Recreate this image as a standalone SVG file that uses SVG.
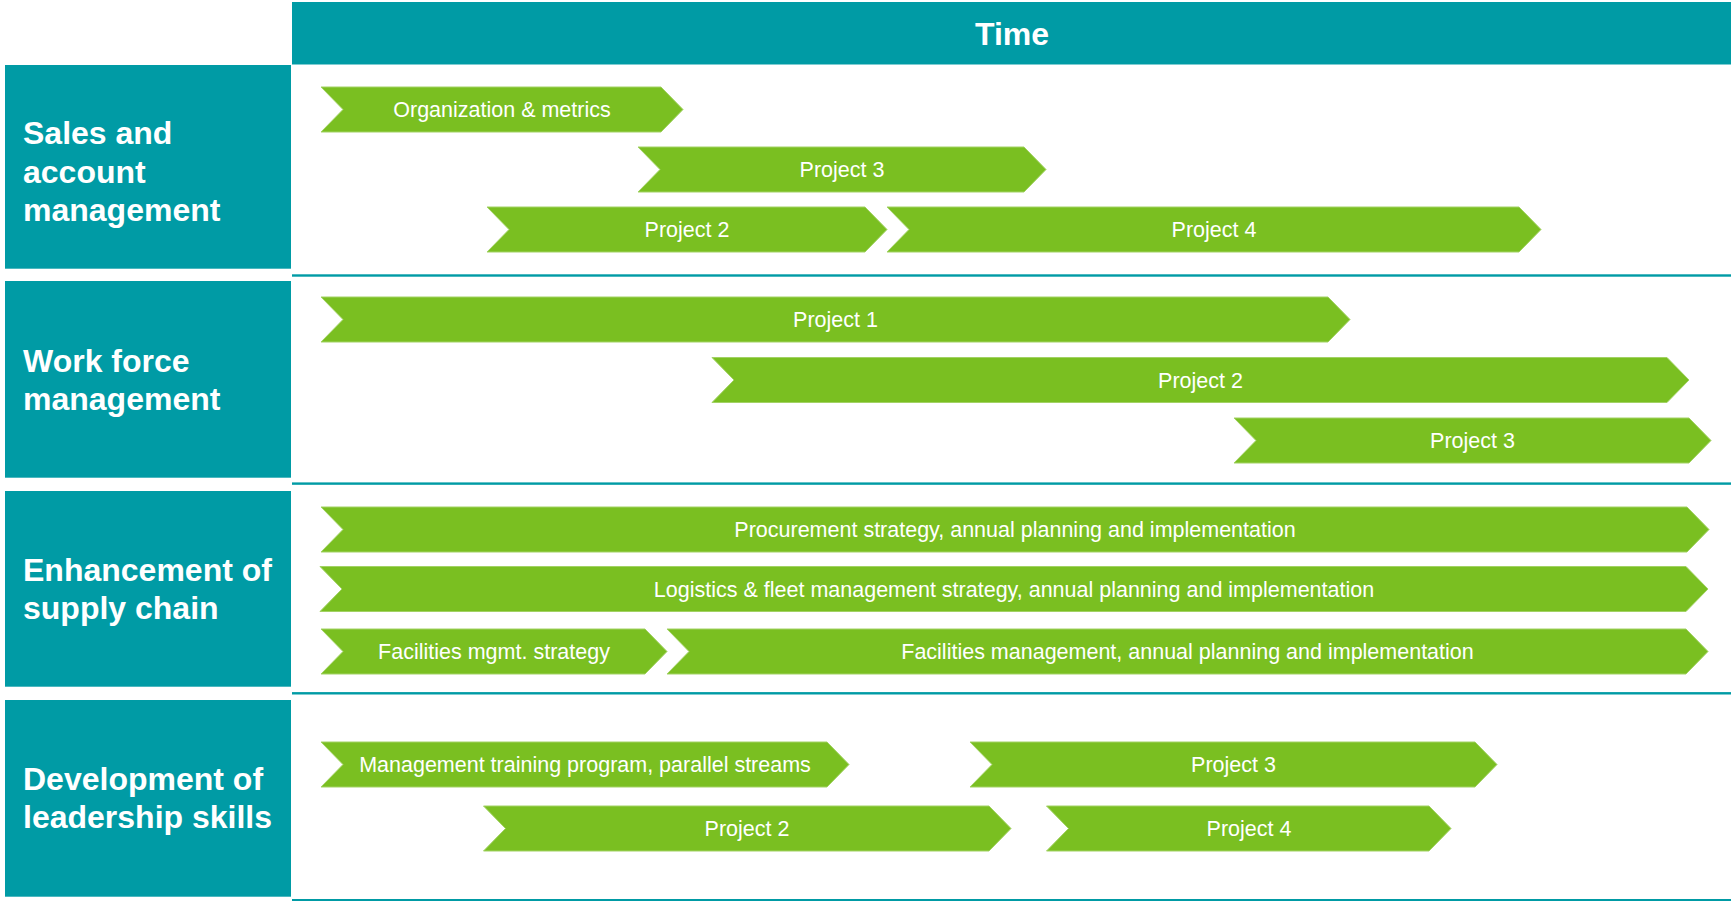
<svg xmlns="http://www.w3.org/2000/svg" width="1731" height="901" viewBox="0 0 1731 901">
  <defs>
    <style>
      .band { fill: #009ba5; }
      .rule { fill: #009ba5; }
      .bar { fill: #7abf21; stroke: #a2d264; stroke-width: 1; }
      .head { font-family: "Liberation Sans", Arial, sans-serif; font-weight: bold; font-size: 32px; fill: #ffffff; }
      .lbl { font-family: "Liberation Sans", Arial, sans-serif; font-size: 21.5px; fill: #ffffff; text-anchor: middle; }
    </style>
  </defs>
  <rect width="1731" height="901" fill="#ffffff"/>

  <!-- timeline header -->
  <g id="time-header">
    <rect class="band" x="292" y="2" width="1439" height="62.5"/>
    <text class="head" x="1012" y="45.3" text-anchor="middle">Time</text>
  </g>

  <!-- row separators -->
  <g id="rules">
    <rect class="rule" x="292" y="274.3" width="1439" height="2.4"/>
    <rect class="rule" x="292" y="482.4" width="1439" height="2.4"/>
    <rect class="rule" x="292" y="692.1" width="1439" height="2.4"/>
    <rect class="rule" x="292" y="899" width="1439" height="2.4"/>
  </g>

  <!-- category labels -->
  <g id="cat-sales">
    <rect class="band" x="5" y="65" width="286" height="203.7"/>
    <text class="head" x="23" y="144">Sales and</text>
    <text class="head" x="23" y="182.5">account</text>
    <text class="head" x="23" y="221">management</text>
  </g>
  <g id="cat-workforce">
    <rect class="band" x="5" y="281" width="286" height="196.7"/>
    <text class="head" x="23" y="371.7">Work force</text>
    <text class="head" x="23" y="410">management</text>
  </g>
  <g id="cat-supply">
    <rect class="band" x="5" y="491" width="286" height="195.7"/>
    <text class="head" x="23" y="581">Enhancement of</text>
    <text class="head" x="23" y="619.3">supply chain</text>
  </g>
  <g id="cat-leadership">
    <rect class="band" x="5" y="700" width="286" height="196.7"/>
    <text class="head" x="23" y="790">Development of</text>
    <text class="head" x="23" y="828.3">leadership skills</text>
  </g>

  <!-- sales and account management bars -->
  <g id="sales-org-metrics">
    <polygon class="bar" points="321,87 661,87 683,109.5 661,132 321,132 343,109.5"/>
    <text class="lbl" x="502" y="117.2">Organization &amp; metrics</text>
  </g>
  <g id="sales-project-3">
    <polygon class="bar" points="638,147 1024,147 1046,169.5 1024,192 638,192 660,169.5"/>
    <text class="lbl" x="842" y="177.2">Project 3</text>
  </g>
  <g id="sales-project-2">
    <polygon class="bar" points="487,207 865,207 887,229.5 865,252 487,252 509,229.5"/>
    <text class="lbl" x="687" y="237.2">Project 2</text>
  </g>
  <g id="sales-project-4">
    <polygon class="bar" points="887,207 1519,207 1541,229.5 1519,252 887,252 909,229.5"/>
    <text class="lbl" x="1214" y="237.2">Project 4</text>
  </g>

  <!-- work force management bars -->
  <g id="wf-project-1">
    <polygon class="bar" points="321,297 1328,297 1350,319.5 1328,342 321,342 343,319.5"/>
    <text class="lbl" x="835.5" y="327.2">Project 1</text>
  </g>
  <g id="wf-project-2">
    <polygon class="bar" points="712,357.5 1667,357.5 1689,380 1667,402.5 712,402.5 734,380"/>
    <text class="lbl" x="1200.5" y="387.7">Project 2</text>
  </g>
  <g id="wf-project-3">
    <polygon class="bar" points="1234,418 1689,418 1711,440.5 1689,463 1234,463 1256,440.5"/>
    <text class="lbl" x="1472.5" y="448.2">Project 3</text>
  </g>

  <!-- supply chain bars -->
  <g id="sc-procurement">
    <polygon class="bar" points="321,507 1687,507 1709,529.5 1687,552 321,552 343,529.5"/>
    <text class="lbl" x="1015" y="537.2">Procurement strategy, annual planning and implementation</text>
  </g>
  <g id="sc-logistics">
    <polygon class="bar" points="320,566.5 1686,566.5 1708,589 1686,611.5 320,611.5 342,589"/>
    <text class="lbl" x="1014" y="596.7">Logistics &amp; fleet management strategy, annual planning and implementation</text>
  </g>
  <g id="sc-facilities-strategy">
    <polygon class="bar" points="321,629 645,629 667,651.5 645,674 321,674 343,651.5"/>
    <text class="lbl" x="494" y="659.2">Facilities mgmt. strategy</text>
  </g>
  <g id="sc-facilities-mgmt">
    <polygon class="bar" points="667,629 1686,629 1708,651.5 1686,674 667,674 689,651.5"/>
    <text class="lbl" x="1187.5" y="659.2">Facilities management, annual planning and implementation</text>
  </g>

  <!-- leadership skills bars -->
  <g id="ls-training">
    <polygon class="bar" points="321,742 827,742 849,764.5 827,787 321,787 343,764.5"/>
    <text class="lbl" x="585" y="772.2">Management training program, parallel streams</text>
  </g>
  <g id="ls-project-3">
    <polygon class="bar" points="970,742 1475,742 1497,764.5 1475,787 970,787 992,764.5"/>
    <text class="lbl" x="1233.5" y="772.2">Project 3</text>
  </g>
  <g id="ls-project-2">
    <polygon class="bar" points="483.5,806 989,806 1011,828.5 989,851 483.5,851 505.5,828.5"/>
    <text class="lbl" x="747" y="836.2">Project 2</text>
  </g>
  <g id="ls-project-4">
    <polygon class="bar" points="1046.5,806 1429,806 1451,828.5 1429,851 1046.5,851 1068.5,828.5"/>
    <text class="lbl" x="1249" y="836.2">Project 4</text>
  </g>

  <!-- no connectors in this chart -->
  <g id="connectors"/>
</svg>
